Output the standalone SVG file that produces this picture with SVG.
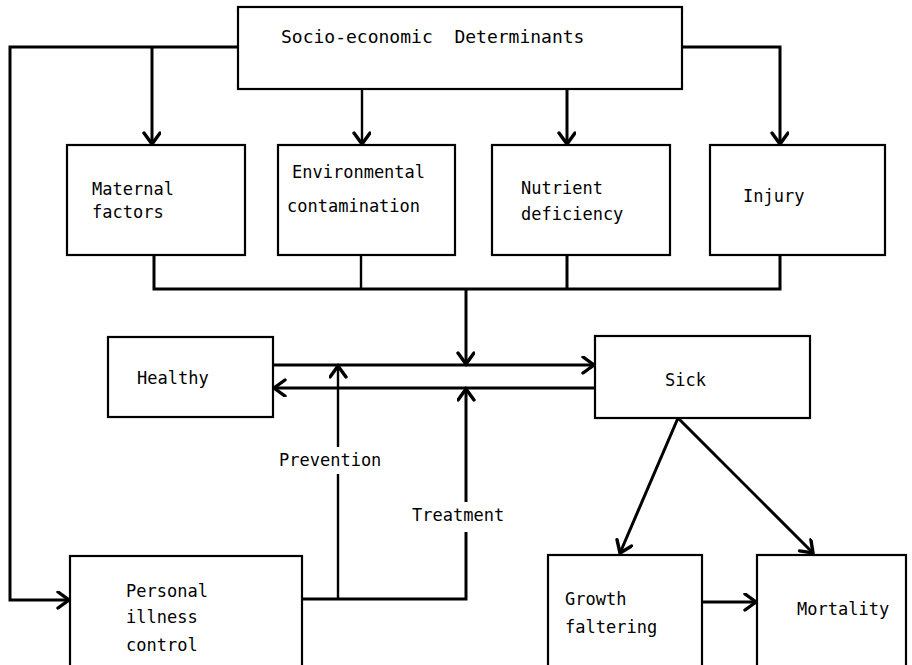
<svg xmlns="http://www.w3.org/2000/svg" width="912" height="665" viewBox="0 0 912 665">
<style>
.box{fill:#fff;stroke:#000;stroke-width:2.2}
.t{font-family:"DejaVu Sans Mono","Liberation Mono",monospace;font-size:17px;fill:#000}
.ln{fill:none;stroke:#000;stroke-width:3;stroke-linejoin:miter}
.lb{fill:none;stroke:#000;stroke-width:2.4}
</style>
<defs>
<marker id="ah" markerUnits="userSpaceOnUse" markerWidth="16" markerHeight="20" refX="13" refY="9" orient="auto">
<path d="M2,1 L13,9 L2,17" fill="none" stroke="#000" stroke-width="3.4" stroke-linecap="round" stroke-linejoin="miter"/>
</marker>
</defs>
<rect width="912" height="665" fill="#fff"/>
<g id="connectors">
<path class="ln" d="M238,47 H10 V600 H69" marker-end="url(#ah)"/>
<path class="ln" d="M152,47 V144" marker-end="url(#ah)"/>
<path class="ln" d="M682,47 H780 V144" marker-end="url(#ah)"/>
<path class="lb" d="M362,89 V144" marker-end="url(#ah)"/>
<path class="ln" d="M567,89 V144" marker-end="url(#ah)"/>
<path class="ln" d="M154,255 V289 H780 V255"/>
<path class="lb" d="M361,255 V289"/>
<path class="ln" d="M567,255 V289"/>
<path class="ln" d="M466,289 V364" marker-end="url(#ah)"/>
<path class="ln" d="M273,365 H594" marker-end="url(#ah)"/>
<path class="ln" d="M595,388 H274" marker-end="url(#ah)"/>
<path class="ln" d="M302,599 H466 V532"/>
<path class="lb" d="M338,599 V474"/>
<path class="lb" d="M338,447 V366" marker-end="url(#ah)"/>
<path class="ln" d="M466,502 V389" marker-end="url(#ah)"/>
<path class="ln" d="M678,418 L620,553" marker-end="url(#ah)"/>
<path class="ln" d="M678,418 L813,553" marker-end="url(#ah)"/>
<path class="ln" d="M702,602 H756" marker-end="url(#ah)"/>
<text class="t" x="279" y="466">Prevention</text>
<text class="t" x="412" y="521">Treatment</text>
</g>
<g id="socio">
<rect class="box" x="238" y="7" width="444" height="82"/>
<text class="t" x="281" y="43" style="font-size:18px" xml:space="preserve">Socio-economic  Determinants</text>
</g>
<g id="maternal">
<rect class="box" x="67" y="145" width="178" height="110"/>
<text class="t" x="92" y="195">Maternal</text>
<text class="t" x="92" y="218">factors</text>
</g>
<g id="environmental">
<rect class="box" x="278" y="145" width="177" height="110"/>
<text class="t" x="292" y="178">Environmental</text>
<text class="t" x="287" y="212">contamination</text>
</g>
<g id="nutrient">
<rect class="box" x="492" y="145" width="178" height="110"/>
<text class="t" x="521" y="194">Nutrient</text>
<text class="t" x="521" y="220">deficiency</text>
</g>
<g id="injury">
<rect class="box" x="710" y="145" width="175" height="110"/>
<text class="t" x="743" y="202">Injury</text>
</g>
<g id="healthy">
<rect class="box" x="108" y="337" width="165" height="80"/>
<text class="t" x="137" y="384">Healthy</text>
</g>
<g id="sick">
<rect class="box" x="595" y="336" width="215" height="82"/>
<text class="t" x="665" y="386">Sick</text>
</g>
<g id="personal">
<rect class="box" x="70" y="556" width="232" height="112"/>
<text class="t" x="126" y="597">Personal</text>
<text class="t" x="126" y="623">illness</text>
<text class="t" x="126" y="651">control</text>
</g>
<g id="growth">
<rect class="box" x="548" y="555" width="154" height="113"/>
<text class="t" x="565" y="605">Growth</text>
<text class="t" x="565" y="633">faltering</text>
</g>
<g id="mortality">
<rect class="box" x="757" y="555" width="149" height="113"/>
<text class="t" x="797" y="615">Mortality</text>
</g>
</svg>
